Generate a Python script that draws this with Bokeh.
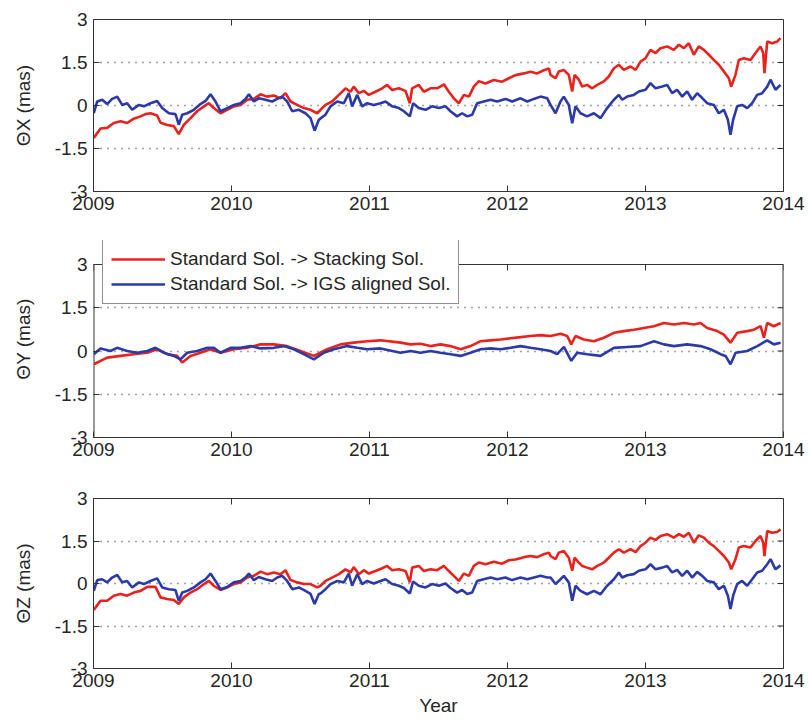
import numpy as np
from bokeh.plotting import figure
from bokeh.layouts import column
from bokeh.models import FixedTicker, Legend, LegendItem, Range1d
from bokeh.embed import file_html
from bokeh.resources import INLINE

YEAR0 = 2009
year_ticks = [2009, 2010, 2011, 2012, 2013, 2014]
value_ticks = [-3, -1.5, 0, 1.5, 3]
value_labels = {-3: "-3", -1.5: "-1.5", 0: "0", 1.5: "1.5", 3: "3"}
series_names = ["Standard Sol. -> Stacking Sol.", "Standard Sol. -> IGS aligned Sol."]
panel_labels = ["\u0398X (mas)", "\u0398Y (mas)", "\u0398Z (mas)"]
x_label = "Year"

# ---- Theta X : years since 2009 and values (mas) ----
tX_red = [0.002, 0.051, 0.099, 0.147, 0.196, 0.244, 0.292, 0.341, 0.377, 0.413, 0.461, 0.486, 0.534, 0.582,
          0.618, 0.655, 0.703, 0.751, 0.800, 0.836, 0.872, 0.920, 0.969, 1.017, 1.065, 1.114, 1.162, 1.210,
          1.258, 1.307, 1.355, 1.391, 1.428, 1.476, 1.524, 1.573, 1.621, 1.645, 1.681, 1.729, 1.778, 1.826,
          1.862, 1.886, 1.923, 1.959, 1.995, 2.043, 2.092, 2.128, 2.164, 2.213, 2.261, 2.292, 2.309, 2.357,
          2.394, 2.442, 2.490, 2.539, 2.575, 2.611, 2.647, 2.684, 2.720, 2.756, 2.792, 2.840, 2.901, 2.961,
          3.010, 3.058, 3.118, 3.167, 3.215, 3.263, 3.300, 3.312, 3.348, 3.372, 3.408, 3.444, 3.469, 3.486,
          3.517, 3.541, 3.577, 3.614, 3.650, 3.698, 3.734, 3.771, 3.807, 3.843, 3.891, 3.928, 3.964, 4.000,
          4.036, 4.073, 4.109, 4.157, 4.205, 4.242, 4.278, 4.314, 4.350, 4.386, 4.423, 4.459, 4.495, 4.531,
          4.568, 4.604, 4.621, 4.652, 4.676, 4.713, 4.761, 4.797, 4.833, 4.853, 4.862, 4.882, 4.918, 4.954,
          4.978]
vX_red = [-1.13, -0.80, -0.78, -0.61, -0.55, -0.61, -0.46, -0.38, -0.30, -0.27, -0.35, -0.60, -0.68, -0.72,
          -1.00, -0.67, -0.44, -0.20, -0.03, 0.08, -0.09, -0.27, -0.15, -0.03, 0.02, 0.20, 0.23, 0.39,
          0.31, 0.35, 0.25, 0.43, 0.14, 0.02, -0.09, -0.15, -0.27, -0.15, 0.02, 0.14, 0.37, 0.60,
          0.48, 0.66, 0.43, 0.51, 0.37, 0.48, 0.60, 0.72, 0.54, 0.60, 0.51, 0.08, 0.60, 0.72,
          0.48, 0.60, 0.60, 0.74, 0.48, 0.25, 0.08, 0.37, 0.31, 0.66, 0.85, 0.77, 0.89, 0.83,
          0.95, 1.06, 1.12, 1.18, 1.12, 1.23, 1.29, 1.07, 0.95, 1.19, 1.24, 1.07, 0.49, 1.07,
          0.90, 0.66, 0.72, 0.60, 0.72, 0.84, 1.01, 1.30, 1.42, 1.24, 1.36, 1.24, 1.53, 1.65,
          1.94, 1.83, 2.00, 2.06, 1.94, 2.12, 2.00, 2.17, 1.77, 2.06, 1.94, 1.77, 1.59, 1.42,
          1.19, 0.95, 0.66, 1.07, 1.59, 1.65, 1.59, 1.83, 2.06, 1.83, 1.13, 2.23, 2.17, 2.23,
          2.35]
tX_blue = [0.002, 0.027, 0.063, 0.099, 0.135, 0.172, 0.208, 0.244, 0.280, 0.329, 0.365, 0.413, 0.461, 0.498,
           0.546, 0.594, 0.618, 0.643, 0.679, 0.727, 0.775, 0.812, 0.848, 0.884, 0.920, 0.969, 1.017, 1.065,
           1.101, 1.126, 1.162, 1.198, 1.246, 1.295, 1.331, 1.367, 1.403, 1.440, 1.488, 1.536, 1.573, 1.602,
           1.633, 1.645, 1.681, 1.717, 1.766, 1.814, 1.850, 1.874, 1.911, 1.947, 1.983, 2.031, 2.080, 2.116,
           2.164, 2.213, 2.249, 2.292, 2.316, 2.357, 2.406, 2.454, 2.502, 2.551, 2.587, 2.635, 2.671, 2.708,
           2.744, 2.780, 2.828, 2.877, 2.925, 2.985, 3.034, 3.094, 3.143, 3.191, 3.239, 3.288, 3.312, 3.348,
           3.384, 3.408, 3.444, 3.469, 3.493, 3.529, 3.577, 3.626, 3.674, 3.722, 3.771, 3.807, 3.831, 3.867,
           3.915, 3.952, 4.000, 4.036, 4.073, 4.121, 4.157, 4.193, 4.229, 4.266, 4.302, 4.338, 4.374, 4.411,
           4.447, 4.495, 4.531, 4.568, 4.597, 4.616, 4.635, 4.664, 4.700, 4.737, 4.773, 4.809, 4.845, 4.882,
           4.906, 4.942, 4.978]
vX_blue = [-0.27, 0.14, 0.20, 0.05, 0.23, 0.31, 0.02, 0.08, -0.15, 0.02, -0.03, 0.08, 0.16, -0.09,
           -0.27, -0.30, -0.67, -0.32, -0.27, -0.15, 0.05, 0.16, 0.39, 0.14, -0.20, -0.09, 0.02, 0.08,
           0.23, 0.39, 0.14, 0.25, 0.20, 0.14, 0.23, 0.31, 0.14, -0.20, -0.15, -0.27, -0.44, -0.88,
           -0.50, -0.45, -0.32, -0.03, 0.14, 0.08, 0.43, -0.03, 0.37, -0.03, 0.08, 0.02, 0.08, 0.14,
           -0.03, -0.09, -0.20, -0.38, 0.08, -0.09, -0.15, -0.03, -0.09, -0.03, -0.20, -0.38, -0.27, -0.38,
           -0.32, 0.08, 0.14, 0.20, 0.14, 0.23, 0.14, 0.25, 0.14, 0.23, 0.31, 0.25, 0.02, -0.27,
           0.14, 0.31, 0.02, -0.62, -0.03, -0.27, -0.38, -0.27, -0.44, -0.09, 0.20, 0.37, 0.20, 0.31,
           0.37, 0.49, 0.55, 0.78, 0.60, 0.66, 0.72, 0.43, 0.55, 0.31, 0.49, 0.20, 0.43, 0.26,
           0.08, 0.02, -0.27, -0.15, -0.50, -1.02, -0.50, -0.03, 0.02, -0.09, 0.08, 0.37, 0.43, 0.66,
           0.90, 0.55, 0.72]

# ---- Theta Y ----
tY_red = [0.002, 0.099, 0.196, 0.292, 0.389, 0.461, 0.534, 0.606, 0.643, 0.703, 0.775, 0.848, 0.920, 1.017,
          1.113, 1.210, 1.307, 1.403, 1.500, 1.597, 1.693, 1.790, 1.886, 1.983, 2.080, 2.225, 2.297, 2.370,
          2.442, 2.515, 2.587, 2.660, 2.732, 2.805, 2.877, 2.950, 3.022, 3.095, 3.167, 3.240, 3.312, 3.384,
          3.433, 3.462, 3.493, 3.553, 3.626, 3.698, 3.771, 3.843, 3.916, 3.988, 4.061, 4.133, 4.206, 4.278,
          4.351, 4.399, 4.447, 4.520, 4.568, 4.616, 4.665, 4.737, 4.785, 4.834, 4.858, 4.882, 4.930, 4.979]
vY_red = [-0.46, -0.23, -0.17, -0.11, -0.06, 0.06, -0.11, -0.17, -0.40, -0.17, -0.06, 0.06, -0.06, 0.06,
          0.11, 0.23, 0.23, 0.17, 0.00, -0.17, 0.06, 0.23, 0.29, 0.34, 0.37, 0.29, 0.23, 0.25,
          0.17, 0.23, 0.17, 0.06, 0.17, 0.34, 0.37, 0.40, 0.44, 0.48, 0.52, 0.55, 0.52, 0.60,
          0.52, 0.23, 0.52, 0.40, 0.34, 0.46, 0.63, 0.69, 0.74, 0.80, 0.86, 0.97, 0.92, 0.97,
          0.92, 0.97, 0.80, 0.69, 0.57, 0.29, 0.63, 0.69, 0.74, 0.86, 0.46, 0.97, 0.86, 0.97]
tY_blue = [0.002, 0.051, 0.123, 0.171, 0.244, 0.316, 0.389, 0.449, 0.510, 0.582, 0.630, 0.679, 0.751, 0.824,
           0.872, 0.920, 0.993, 1.065, 1.138, 1.210, 1.307, 1.379, 1.452, 1.524, 1.597, 1.669, 1.741, 1.838,
           1.911, 1.983, 2.080, 2.225, 2.297, 2.370, 2.442, 2.515, 2.587, 2.660, 2.732, 2.805, 2.877, 2.950,
           3.022, 3.095, 3.167, 3.240, 3.312, 3.360, 3.409, 3.462, 3.505, 3.578, 3.674, 3.771, 3.867, 3.964,
           4.061, 4.133, 4.206, 4.302, 4.399, 4.471, 4.544, 4.580, 4.616, 4.653, 4.737, 4.810, 4.882, 4.930,
           4.979]
vY_blue = [-0.11, 0.09, 0.00, 0.11, 0.00, -0.06, 0.00, 0.11, -0.06, -0.17, -0.29, -0.06, 0.00, 0.11,
           0.11, -0.06, 0.11, 0.11, 0.17, 0.09, 0.11, 0.17, 0.06, -0.11, -0.29, -0.06, 0.06, 0.17,
           0.11, 0.06, 0.09, -0.06, 0.00, -0.06, 0.00, -0.06, -0.11, -0.17, -0.06, 0.06, 0.09, 0.06,
           0.11, 0.17, 0.11, 0.06, 0.00, -0.11, 0.14, -0.34, -0.06, -0.11, -0.17, 0.11, 0.14, 0.17,
           0.34, 0.23, 0.17, 0.23, 0.17, 0.06, -0.11, -0.17, -0.46, -0.06, 0.00, 0.17, 0.37, 0.23,
           0.29]

# ---- Theta Z ----
tZ_red = [0.002, 0.051, 0.099, 0.147, 0.196, 0.244, 0.292, 0.341, 0.389, 0.449, 0.486, 0.534, 0.582, 0.618,
          0.655, 0.703, 0.751, 0.800, 0.836, 0.872, 0.920, 0.969, 1.017, 1.065, 1.114, 1.162, 1.210, 1.258,
          1.307, 1.355, 1.391, 1.428, 1.476, 1.524, 1.573, 1.621, 1.645, 1.681, 1.729, 1.778, 1.826, 1.862,
          1.886, 1.923, 1.959, 1.995, 2.043, 2.092, 2.128, 2.164, 2.213, 2.261, 2.292, 2.309, 2.357, 2.394,
          2.442, 2.490, 2.539, 2.575, 2.611, 2.647, 2.684, 2.720, 2.756, 2.792, 2.840, 2.901, 2.961, 3.010,
          3.058, 3.118, 3.167, 3.215, 3.263, 3.300, 3.312, 3.348, 3.372, 3.408, 3.444, 3.469, 3.486, 3.517,
          3.541, 3.577, 3.614, 3.650, 3.698, 3.734, 3.771, 3.807, 3.843, 3.891, 3.928, 3.964, 4.000, 4.036,
          4.073, 4.109, 4.157, 4.205, 4.242, 4.278, 4.314, 4.350, 4.386, 4.423, 4.459, 4.495, 4.531, 4.568,
          4.604, 4.621, 4.652, 4.676, 4.713, 4.761, 4.797, 4.833, 4.853, 4.862, 4.882, 4.918, 4.954, 4.978]
vZ_red = [-0.93, -0.61, -0.61, -0.43, -0.37, -0.43, -0.32, -0.26, -0.12, -0.12, -0.49, -0.55, -0.58, -0.72,
          -0.49, -0.32, -0.20, -0.02, 0.09, -0.08, -0.23, -0.14, -0.02, 0.04, 0.21, 0.27, 0.42, 0.33,
          0.39, 0.33, 0.47, 0.12, 0.04, -0.02, -0.02, -0.14, -0.08, 0.09, 0.21, 0.33, 0.50, 0.39,
          0.58, 0.33, 0.47, 0.35, 0.44, 0.54, 0.62, 0.47, 0.50, 0.44, 0.04, 0.56, 0.62, 0.44,
          0.50, 0.47, 0.62, 0.44, 0.27, 0.09, 0.35, 0.27, 0.62, 0.74, 0.68, 0.77, 0.70, 0.82,
          0.85, 0.93, 0.97, 0.93, 1.03, 1.09, 0.97, 0.86, 1.09, 1.15, 0.91, 0.45, 0.91, 0.74,
          0.62, 0.56, 0.50, 0.62, 0.74, 0.91, 1.09, 1.21, 1.09, 1.21, 1.11, 1.32, 1.44, 1.62,
          1.54, 1.68, 1.74, 1.62, 1.74, 1.65, 1.79, 1.44, 1.70, 1.62, 1.44, 1.32, 1.15, 0.97,
          0.74, 0.50, 0.86, 1.27, 1.32, 1.27, 1.50, 1.68, 1.44, 0.97, 1.85, 1.79, 1.82, 1.91]
tZ_blue = [0.002, 0.027, 0.063, 0.099, 0.135, 0.172, 0.208, 0.244, 0.280, 0.329, 0.365, 0.413, 0.461, 0.498,
           0.546, 0.594, 0.618, 0.643, 0.679, 0.727, 0.775, 0.812, 0.848, 0.884, 0.920, 0.969, 1.017, 1.065,
           1.101, 1.126, 1.162, 1.198, 1.246, 1.295, 1.331, 1.367, 1.403, 1.440, 1.488, 1.536, 1.573, 1.602,
           1.633, 1.645, 1.681, 1.717, 1.766, 1.814, 1.850, 1.874, 1.911, 1.947, 1.983, 2.031, 2.080, 2.116,
           2.164, 2.213, 2.249, 2.292, 2.316, 2.357, 2.406, 2.454, 2.502, 2.551, 2.587, 2.635, 2.671, 2.708,
           2.744, 2.780, 2.828, 2.877, 2.925, 2.985, 3.034, 3.094, 3.143, 3.191, 3.239, 3.288, 3.312, 3.348,
           3.384, 3.408, 3.444, 3.469, 3.493, 3.529, 3.577, 3.626, 3.674, 3.722, 3.771, 3.807, 3.831, 3.867,
           3.915, 3.952, 4.000, 4.036, 4.073, 4.121, 4.157, 4.193, 4.229, 4.266, 4.302, 4.338, 4.374, 4.411,
           4.447, 4.495, 4.531, 4.568, 4.597, 4.616, 4.635, 4.664, 4.700, 4.737, 4.773, 4.809, 4.845, 4.882,
           4.906, 4.942, 4.978]
vZ_blue = [-0.26, 0.12, 0.15, 0.04, 0.21, 0.30, 0.04, 0.09, -0.14, 0.04, -0.02, 0.09, 0.18, -0.14,
           -0.20, -0.23, -0.61, -0.32, -0.26, -0.14, 0.04, 0.15, 0.35, 0.09, -0.20, -0.12, 0.04, 0.09,
           0.21, 0.35, 0.12, 0.23, 0.15, 0.09, 0.21, 0.27, 0.09, -0.20, -0.14, -0.26, -0.37, -0.72,
           -0.37, -0.35, -0.20, -0.02, 0.09, 0.04, 0.35, -0.08, 0.33, -0.02, 0.09, 0.00, 0.09, 0.15,
           -0.02, -0.08, -0.16, -0.35, 0.07, -0.08, -0.14, -0.02, -0.08, 0.00, -0.16, -0.32, -0.23, -0.37,
           -0.32, 0.09, 0.15, 0.21, 0.15, 0.21, 0.12, 0.21, 0.15, 0.21, 0.27, 0.21, 0.21, -0.02,
           0.15, 0.27, 0.04, -0.61, -0.08, -0.26, -0.38, -0.26, -0.38, -0.08, 0.15, 0.39, 0.21, 0.29,
           0.33, 0.45, 0.50, 0.68, 0.50, 0.56, 0.62, 0.39, 0.48, 0.27, 0.45, 0.21, 0.41, 0.27,
           0.09, 0.04, -0.20, -0.08, -0.43, -0.90, -0.43, -0.02, 0.09, -0.08, 0.15, 0.39, 0.45, 0.68,
           0.86, 0.50, 0.64]

RED = "#e8231d"
BLUE = "#2b3aa8"
FONT = "Liberation Sans"
TXT = "#262626"
AX = "#333333"
FRAME_W = 690
TICK_PX = 6
X0, X1 = year_ticks[0], year_ticks[-1]
Y0, Y1 = value_ticks[0], value_ticks[-1]


def style_axis(ax, ticks, overrides=None):
    ax.ticker = FixedTicker(ticks=ticks)
    ax.major_tick_in = TICK_PX
    ax.major_tick_out = 0
    ax.minor_tick_in = 0
    ax.minor_tick_out = 0
    ax.axis_line_color = AX
    ax.major_tick_line_color = AX
    ax.axis_line_width = 1
    ax.major_label_text_font = FONT
    ax.major_label_text_font_size = "19px"
    ax.major_label_text_color = TXT
    ax.major_label_standoff = 5
    if overrides:
        ax.major_label_overrides = overrides


def make_panel(height, b_top, b_bottom, ylabel, t_red, v_red, t_blue, v_blue, xlabel=None, extra_top=0):
    plot_h = height - b_top - b_bottom
    data_h = plot_h - extra_top
    y_end = Y1 + (Y1 - Y0) * extra_top / data_h
    p = figure(width=808, height=height, x_range=Range1d(X0, X1), y_range=Range1d(Y0, y_end),
               output_backend="svg", toolbar_location=None,
               min_border_left=93, min_border_right=25, min_border_top=b_top, min_border_bottom=b_bottom)
    p.background_fill_color = "white"
    p.border_fill_color = "white"

    style_axis(p.xaxis[0], year_ticks)
    style_axis(p.yaxis[0], value_ticks, overrides=value_labels)
    p.yaxis[0].axis_label = ylabel
    p.yaxis[0].axis_label_text_font = FONT
    p.yaxis[0].axis_label_text_font_size = "19px"
    p.yaxis[0].axis_label_text_font_style = "normal"
    p.yaxis[0].axis_label_text_color = TXT
    p.yaxis[0].axis_label_standoff = 18
    p.yaxis[0].major_label_standoff = 6
    if xlabel:
        p.xaxis[0].axis_label = xlabel
        p.xaxis[0].axis_label_text_font = FONT
        p.xaxis[0].axis_label_text_font_size = "19px"
        p.xaxis[0].axis_label_text_font_style = "normal"
        p.xaxis[0].axis_label_text_color = TXT
        p.xaxis[0].axis_label_standoff = 5

    if extra_top:
        # box drawn at the data limits; the frame extends above it to host the legend
        p.outline_line_color = None
        p.yaxis[0].axis_line_color = None
        # left/right sides lie on the frame edge (half clipped), so draw them wider
        p.segment(x0=[X0, X1], y0=[Y0, Y0], x1=[X0, X1], y1=[Y1, Y1], line_color=AX, line_width=2)
        p.segment(x0=[X0], y0=[Y1], x1=[X1], y1=[Y1], line_color=AX, line_width=1)
    else:
        p.outline_line_color = AX
        p.outline_line_width = 1

    # inward ticks along the top and right edges of the box
    dy = (Y1 - Y0) * TICK_PX / data_h
    dx = (X1 - X0) * TICK_PX / FRAME_W
    p.segment(x0=year_ticks, y0=[Y1] * len(year_ticks), x1=year_ticks, y1=[Y1 - dy] * len(year_ticks),
              line_color=AX, line_width=1)
    p.segment(x0=[X1] * len(value_ticks), y0=value_ticks, x1=[X1 - dx] * len(value_ticks), y1=value_ticks,
              line_color=AX, line_width=1)

    p.xgrid.visible = False
    p.ygrid.ticker = FixedTicker(ticks=[-1.5, 0, 1.5])
    p.ygrid.grid_line_color = "#444444"
    p.ygrid.grid_line_dash = "1 6"
    p.ygrid.grid_line_width = 1.5

    x_red = YEAR0 + np.array(t_red)
    x_blue = YEAR0 + np.array(t_blue)
    r1 = p.line(x_red, v_red, line_color=RED, line_width=2.6)
    r2 = p.line(x_blue, v_blue, line_color=BLUE, line_width=2.6)
    return p, r1, r2


p1, _, _ = make_panel(230, 19, 39, panel_labels[0], tX_red, vX_red, tX_blue, vX_blue)
p2, r_red, r_blue = make_panel(240, 10, 33, panel_labels[1], tY_red, vY_red, tY_blue, vY_blue, extra_top=24)
p3, _, _ = make_panel(257, 28, 59, panel_labels[2], tZ_red, vZ_red, tZ_blue, vZ_blue, xlabel=x_label)

legend = Legend(items=[LegendItem(label=series_names[0], renderers=[r_red]),
                       LegendItem(label=series_names[1], renderers=[r_blue])],
                location=(9, 133))
legend.label_text_font = FONT
legend.label_text_font_size = "19px"
legend.label_text_color = TXT
legend.glyph_width = 54
legend.glyph_height = 20
legend.label_standoff = 5
legend.padding = 8
legend.spacing = 3
legend.margin = 0
legend.border_line_color = "#222222"
legend.border_line_width = 1.2
legend.background_fill_color = "white"
legend.background_fill_alpha = 1
p2.add_layout(legend)

layout = column(p1, p2, p3, spacing=0)
with open("out.html", "w") as f:
    f.write(file_html(layout, INLINE))
